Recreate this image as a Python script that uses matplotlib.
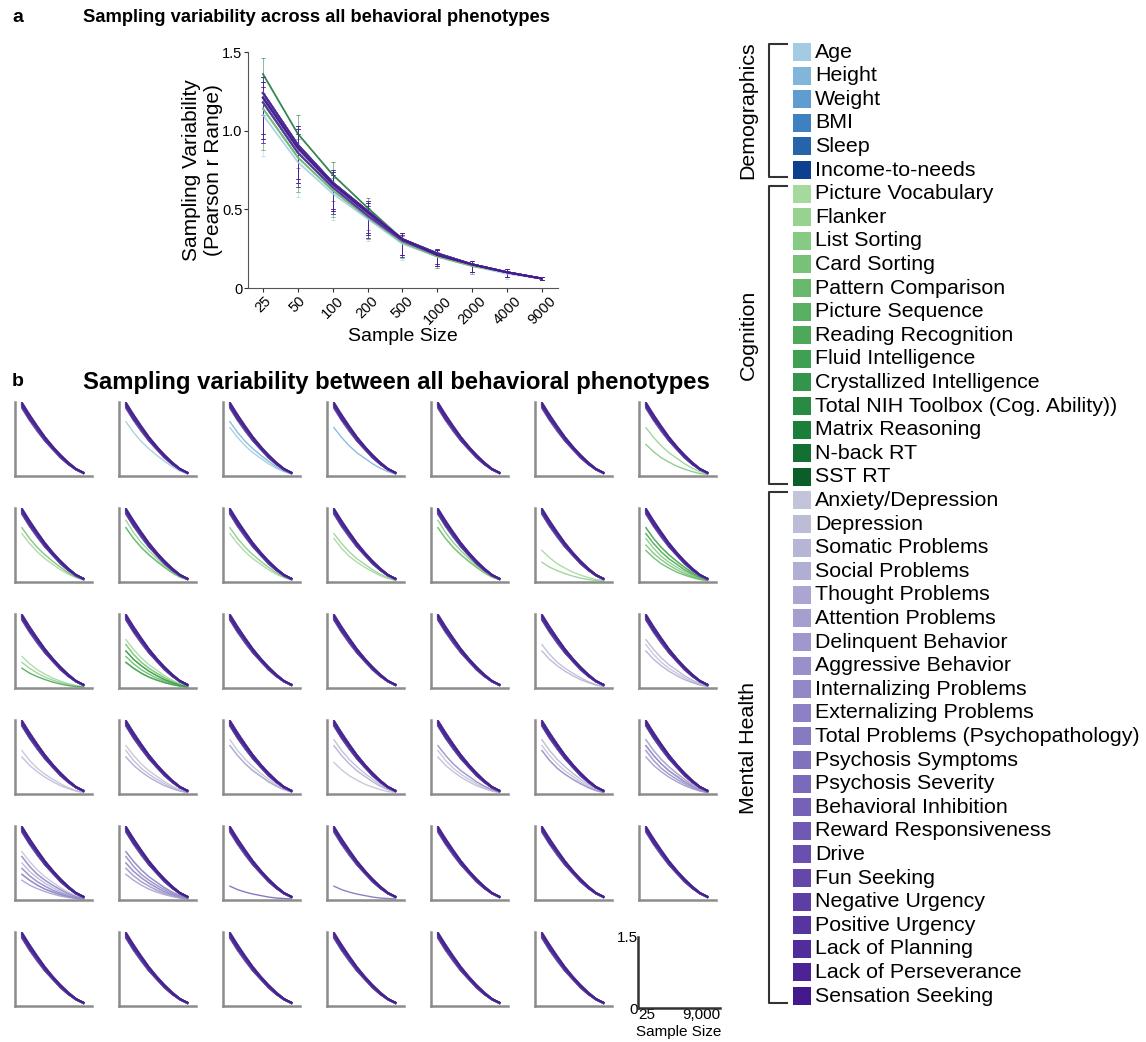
import numpy as np
import matplotlib
matplotlib.use("Agg")
import matplotlib.pyplot as plt
from matplotlib.patches import Rectangle

plt.rcParams['font.family'] = ['Liberation Sans', 'DejaVu Sans']

W, H = 1146, 1042

# ---------------- data ----------------
sizes = ['25', '50', '100', '200', '500', '1000', '2000', '4000', '9000']

demo_names = ['Age', 'Height', 'Weight', 'BMI', 'Sleep', 'Income-to-needs']
cog_names = ['Picture Vocabulary', 'Flanker', 'List Sorting', 'Card Sorting',
             'Pattern Comparison', 'Picture Sequence', 'Reading Recognition',
             'Fluid Intelligence', 'Crystallized Intelligence',
             'Total NIH Toolbox (Cog. Ability))', 'Matrix Reasoning',
             'N-back RT', 'SST RT']
mh_names = ['Anxiety/Depression', 'Depression', 'Somatic Problems',
            'Social Problems', 'Thought Problems', 'Attention Problems',
            'Delinquent Behavior', 'Aggressive Behavior',
            'Internalizing Problems', 'Externalizing Problems',
            'Total Problems (Psychopathology)', 'Psychosis Symptoms',
            'Psychosis Severity', 'Behavioral Inhibition',
            'Reward Responsiveness', 'Drive', 'Fun Seeking',
            'Negative Urgency', 'Positive Urgency', 'Lack of Planning',
            'Lack of Perseverance', 'Sensation Seeking']

demo_colors = ['#a3cbe3', '#82b5da', '#5f9dd1', '#3f80c0', '#2563aa', '#0d3f8f']
cog_colors = ['#a5d99e', '#97d291', '#86ca83', '#78c277', '#69b96c', '#5ab062',
              '#4da85a', '#3f9f52', '#33954b', '#288a43', '#1c7e3b', '#137033',
              '#0b5e2a']
mh_colors = ['#c3c3d9', '#bdbcd7', '#b7b5d5', '#b1aed3', '#aba6d1', '#a59fcf',
             '#9f98cc', '#9990ca', '#9388c7', '#8d80c4', '#877ac1', '#8172be',
             '#7b69ba', '#7561b6', '#6f59b2', '#6950ae', '#6347a9', '#5d3ea4',
             '#57359f', '#512c9a', '#4b2394', '#45198d']

# panel a: range of r per sample size (a few distinct curve shapes)
a_curves = [
    [1.21, 0.89, 0.66, 0.48, 0.31, 0.21, 0.15, 0.10, 0.06],
    [1.24, 0.91, 0.67, 0.49, 0.31, 0.22, 0.15, 0.10, 0.06],
    [1.18, 0.86, 0.64, 0.46, 0.30, 0.21, 0.15, 0.10, 0.06],
    [1.36, 0.98, 0.72, 0.51, 0.31, 0.22, 0.15, 0.10, 0.06],
    [1.14, 0.83, 0.62, 0.45, 0.29, 0.20, 0.14, 0.10, 0.06],
    [1.10, 0.80, 0.60, 0.44, 0.28, 0.20, 0.14, 0.09, 0.06],
]
a_pick = [5, 4, 2, 0, 1, 0,
          4, 2, 2, 0, 4, 2, 0, 2, 0, 1, 0, 3, 1,
          1, 0, 2, 0, 1, 2, 0, 1, 0, 2, 1, 0, 1, 2, 0, 1, 0, 1, 0, 2, 1, 0]
a_err_lo = [0.26, 0.22, 0.17, 0.14, 0.10, 0.07, 0.05, 0.03, 0.01]
a_err_hi = [0.10, 0.12, 0.08, 0.06, 0.04, 0.03, 0.02, 0.02, 0.01]

# panel b: bundle curves (most phenotype pairs) and low-lying outlier curves
b_bundle = [
    [1.49, 1.24, 1.01, 0.79, 0.60, 0.43, 0.28, 0.15, 0.07],
    [1.46, 1.18, 0.97, 0.75, 0.58, 0.40, 0.26, 0.14, 0.06],
    [1.42, 1.20, 0.93, 0.74, 0.55, 0.40, 0.24, 0.14, 0.06],
    [1.47, 1.22, 0.95, 0.77, 0.57, 0.41, 0.26, 0.13, 0.07],
    [1.38, 1.13, 0.91, 0.71, 0.54, 0.37, 0.24, 0.13, 0.05],
    [1.44, 1.23, 0.98, 0.78, 0.59, 0.41, 0.27, 0.15, 0.06],
    [1.40, 1.15, 0.95, 0.72, 0.56, 0.38, 0.25, 0.13, 0.06],
    [1.45, 1.17, 0.99, 0.76, 0.56, 0.42, 0.25, 0.14, 0.07],
]
b_low = [
    [1.25, 1.00, 0.80, 0.63, 0.48, 0.34, 0.22, 0.12, 0.05],
    [1.10, 0.88, 0.70, 0.55, 0.42, 0.30, 0.19, 0.10, 0.05],
    [0.98, 0.78, 0.61, 0.47, 0.36, 0.25, 0.16, 0.09, 0.04],
    [0.88, 0.68, 0.52, 0.40, 0.30, 0.21, 0.13, 0.07, 0.03],
    [0.75, 0.58, 0.45, 0.34, 0.25, 0.17, 0.11, 0.06, 0.03],
    [0.64, 0.49, 0.37, 0.28, 0.20, 0.14, 0.09, 0.05, 0.03],
    [0.52, 0.40, 0.30, 0.22, 0.16, 0.11, 0.07, 0.04, 0.02],
    [0.40, 0.30, 0.23, 0.17, 0.12, 0.08, 0.05, 0.03, 0.02],
    [0.28, 0.21, 0.16, 0.12, 0.09, 0.06, 0.04, 0.03, 0.02],
]
# per panel: (phenotype whose line drops, which low curve)
b_out = {
    1: [(0, 1)],
    2: [(0, 2), (1, 1)],
    3: [(1, 2)],
    6: [(7, 2), (8, 5)],
    7: [(6, 2), (9, 1)],
    8: [(6, 1), (7, 0), (10, 1)],
    9: [(6, 2), (8, 1)],
    10: [(6, 3), (7, 2)],
    11: [(6, 1), (8, 0), (9, 1)],
    12: [(6, 5), (7, 7)],
    13: [(6, 1), (7, 2), (8, 3), (9, 4), (10, 5), (11, 2), (12, 1)],
    14: [(6, 5), (7, 6), (12, 7)],
    15: [(6, 2), (7, 3), (8, 3), (9, 4), (10, 5), (11, 6), (12, 6), (13, 4)],
    19: [(20, 3), (21, 4)],
    20: [(19, 3), (21, 2), (22, 4)],
    21: [(19, 3), (20, 4)],
    22: [(19, 2), (20, 3), (23, 4)],
    23: [(19, 1), (20, 2), (22, 2)],
    24: [(19, 5), (20, 1), (22, 2)],
    25: [(19, 3), (20, 4), (27, 2)],
    26: [(19, 2), (20, 3), (21, 1), (25, 3)],
    27: [(19, 1), (20, 2), (21, 3), (22, 2), (23, 1), (24, 3), (25, 4), (26, 2)],
    28: [(19, 2), (20, 3), (21, 4), (22, 5), (23, 6), (24, 7), (25, 5), (26, 3), (27, 6)],
    29: [(19, 2), (20, 3), (21, 4), (22, 5), (23, 5), (24, 6), (25, 3), (26, 4), (27, 2)],
    30: [(31, 8)],
    31: [(30, 8)],
}

names = demo_names + cog_names + mh_names
colors = demo_colors + cog_colors + mh_colors
n_ph = len(names)
xi = np.arange(len(sizes))


def px(l, t, w, h):
    return [l / W, 1 - (t + h) / H, w / W, h / H]


fig = plt.figure(figsize=(W / 100, H / 100), dpi=100)

# overlay in pixel coordinates for titles and legend
ov = fig.add_axes([0, 0, 1, 1])
ov.set_xlim(0, W)
ov.set_ylim(H, 0)
ov.axis('off')

# ---------------- panel a ----------------
ax = fig.add_axes(px(248, 52, 310, 236))
for j in range(n_ph):
    y = np.array(a_curves[a_pick[j]])
    ax.errorbar(xi, y, yerr=[a_err_lo, a_err_hi], color=colors[j], lw=1.3,
                elinewidth=0.4, capsize=1.2, capthick=0.5, alpha=0.85)
ax.set_xlim(-0.43, 8.46)
ax.set_ylim(0, 1.5)
ax.set_xticks(xi)
ax.set_xticklabels(sizes, rotation=45, fontsize=10.5)
ax.set_yticks([0, 0.5, 1.0, 1.5])
ax.set_yticklabels(['0', '0.5', '1.0', '1.5'], fontsize=10.5)
for s in ['top', 'right']:
    ax.spines[s].set_visible(False)
for s in ['left', 'bottom']:
    ax.spines[s].set_color('#555555')
ax.tick_params(colors='#333333', length=3, pad=1, labelcolor='black')
ax.set_ylabel('Sampling Variability\n(Pearson r Range)', fontsize=15)
ax.yaxis.set_label_coords(-0.08, 0.5)
ax.set_xlabel('Sample Size', fontsize=14, labelpad=1)

# ---------------- panel b ----------------
for p in range(n_ph):
    r, c = divmod(p, 7)
    axb = fig.add_axes(px(15 + 104 * c, 402 + 106 * r, 77, 74))
    drops = dict(b_out.get(p, []))
    for j in range(n_ph):
        if j in drops:
            y = b_low[drops[j]]
            axb.plot(xi, y, color=colors[j], lw=1.0, alpha=0.9, zorder=1)
        else:
            y = b_bundle[j % len(b_bundle)]
            axb.plot(xi, y, color=colors[j], lw=1.1, alpha=0.8, zorder=2)
    axb.set_xlim(-0.9, 9.1)
    axb.set_ylim(0, 1.5)
    axb.set_xticks([])
    axb.set_yticks([])
    for s in ['top', 'right']:
        axb.spines[s].set_visible(False)
    for s in ['left', 'bottom']:
        axb.spines[s].set_color('#8c8c8c')
        axb.spines[s].set_linewidth(1.8)

# scale key
axk = fig.add_axes(px(638, 937, 82, 71))
axk.set_xlim(0, 1)
axk.set_ylim(0, 1.5)
axk.set_xticks([0, 1])
axk.set_xticklabels(['25', '9,000'], fontsize=11)
axk.get_xticklabels()[0].set_ha('left')
axk.get_xticklabels()[1].set_ha('right')
axk.set_yticks([0, 1.5])
axk.set_yticklabels(['0', '1.5'], fontsize=11)
axk.tick_params(length=0, pad=0)
for s in ['top', 'right']:
    axk.spines[s].set_visible(False)
for s in ['left', 'bottom']:
    axk.spines[s].set_color('#333333')
    axk.spines[s].set_linewidth(1.8)
axk.set_xlabel('Sample Size', fontsize=11, labelpad=0)
axk.xaxis.set_label_coords(0.5, -0.24)
axk.xaxis.label.set_va('top')

# ---------------- titles ----------------
ov.text(12, 17, 'a', fontsize=14, fontweight='bold', va='center')
ov.text(83, 17, 'Sampling variability across all behavioral phenotypes',
        fontsize=13.2, fontweight='bold', va='center')
ov.text(12, 382, 'b', fontsize=14, fontweight='bold', va='center')
ov.text(83, 382, 'Sampling variability between all behavioral phenotypes',
        fontsize=17.2, fontweight='bold', va='center')

# ---------------- legend ----------------
step = 23.6
for i in range(n_ph):
    yc = 52 + step * i
    ov.add_patch(Rectangle((793, yc - 9), 18, 18, color=colors[i], lw=0))
    ov.text(815, yc, names[i], fontsize=15.4, va='center', ha='left')

groups = [('Demographics', 0, 5), ('Cognition', 6, 18), ('Mental Health', 19, 40)]
for g, i0, i1 in groups:
    top = 52 + step * i0 - 8
    bot = 52 + step * i1 + 7
    ov.plot([787, 769, 769, 787], [top, top, bot, bot], color='#333333', lw=1.5)
    ov.text(748, (top + bot) / 2, g, rotation=90, fontsize=15.4,
            va='center', ha='center')

fig.savefig('out.png', dpi=100)
